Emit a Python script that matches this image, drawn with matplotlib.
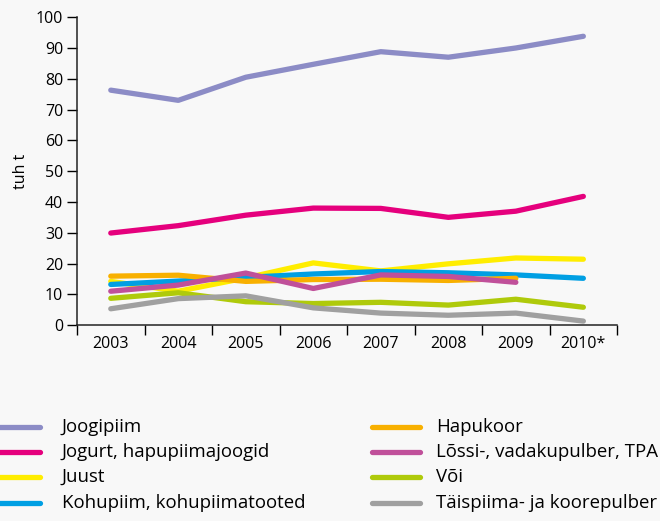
import numpy as np
import matplotlib.pyplot as plt
from matplotlib.lines import Line2D

plt.rcParams['font.family'] = ['Open Sans', 'DejaVu Sans']

years = ['2003', '2004', '2005', '2006', '2007', '2008', '2009', '2010*']

joogipiim = [76.3, 73.0, 80.5, 84.7, 88.8, 87.0, 90.0, 93.8]
jogurt = [29.9, 32.3, 35.7, 38.0, 37.9, 35.0, 37.0, 41.8]
juust = [14.2, 11.0, 15.3, 20.2, 17.6, 19.9, 21.8, 21.4]
kohupiim = [13.2, 14.3, 15.5, 16.6, 17.4, 17.0, 16.3, 15.2]
hapukoor = [15.9, 16.2, 14.2, 14.8, 14.9, 14.5, 15.2]
lossi = [11.0, 13.0, 16.9, 11.9, 16.3, 15.8, 13.9]
voi = [8.7, 10.5, 7.6, 7.0, 7.4, 6.5, 8.4, 5.8]
taispiima = [5.3, 8.6, 9.5, 5.6, 3.9, 3.2, 3.9, 1.3]

series = [
    ('Joogipiim', joogipiim, '#8c8cc6'),
    ('Jogurt, hapupiimajoogid', jogurt, '#e5007d'),
    ('Juust', juust, '#ffed00'),
    ('Kohupiim, kohupiimatooted', kohupiim, '#009fe3'),
    ('Hapukoor', hapukoor, '#f8b000'),
    ('Lõssi-, vadakupulber, TPA', lossi, '#c0509a'),
    ('Või', voi, '#afca0b'),
    ('Täispiima- ja koorepulber', taispiima, '#a0a0a0'),
]
draw_order = [0, 1, 4, 5, 2, 3, 6, 7]

fig = plt.figure(figsize=(6.6, 5.21), dpi=100)
fig.patch.set_facecolor('#f8f8f8')
ax = fig.add_axes([0.1167, 0.376, 0.8183, 0.591])
ax.set_facecolor('none')

for i in draw_order:
    name, vals, col = series[i]
    ax.plot(np.arange(len(vals)), vals, color=col, lw=3.8,
            solid_capstyle='round', solid_joinstyle='round', zorder=2 + i)

ax.set_xlim(-0.5, len(years) - 0.5)
ax.set_ylim(0, 100)
ax.set_yticks(range(0, 101, 10))
ax.set_xticks(np.arange(len(years)))
ax.set_xticklabels(years)
ax.set_xticks(np.arange(-0.5, len(years)), minor=True)
ax.tick_params(axis='x', which='major', length=0, pad=8, labelsize=11.5)
ax.tick_params(axis='x', which='minor', length=7, width=1, direction='out')
ax.tick_params(axis='y', length=7, width=1, direction='out', labelsize=11.5, pad=3)
for s in ['top', 'right']:
    ax.spines[s].set_visible(False)
for s in ['left', 'bottom']:
    ax.spines[s].set_linewidth(1.1)
    ax.spines[s].set_color('#222222')
ax.set_ylabel('tuh t', fontsize=11.5, labelpad=5)

# legend, two columns
W, H = 660.0, 521.0
rows = [427, 452, 477, 503]
cols = [(-8, 40, 62), (372, 420, 436)]
for k, (name, vals, col) in enumerate(series):
    c = cols[k // 4]
    y = 1 - rows[k % 4] / H
    fig.add_artist(Line2D([c[0] / W, c[1] / W], [y, y], color=col, lw=3.8,
                          solid_capstyle='round', transform=fig.transFigure))
    fig.text(c[2] / W, y, name, fontsize=13.4, va='center', ha='left')

fig.savefig('out.png', dpi=100, facecolor=fig.get_facecolor())
